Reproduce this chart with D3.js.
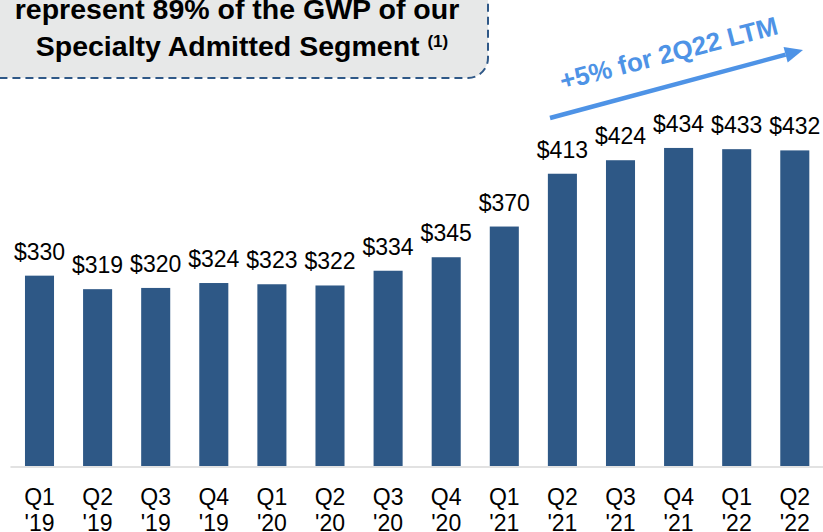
<!DOCTYPE html>
<html><head><meta charset="utf-8">
<script src="https://cdn.jsdelivr.net/npm/d3@7"></script>
<style>html,body{margin:0;padding:0;background:#fff;}svg{display:block;}</style>
</head><body>
<svg id="chart" width="823" height="532"></svg>
<script>
const quarters = ["Q1","Q2","Q3","Q4","Q1","Q2","Q3","Q4","Q1","Q2","Q3","Q4","Q1","Q2"];
const years = ["'19","'19","'19","'19","'20","'20","'20","'20","'21","'21","'21","'21","'22","'22"];
const values = [330,319,320,324,323,322,334,345,370,413,424,434,433,432];
const calloutLines = ["represent 89% of the GWP of our","Specialty Admitted Segment"];
const calloutNote = "(1)";
const growthLabel = "+5% for 2Q22 LTM";

const W = 823, H = 532;
const svg = d3.select("#chart");
const font = "Liberation Sans, Arial, Helvetica, sans-serif";
const keys = quarters.map((q,i)=>i);

const x = d3.scaleBand().domain(keys).range([10.45, 823.85]).paddingInner(0.5).paddingOuter(0.25);
const y = d3.scaleLinear().domain([175, 500]).range([466, 66.9]);

// callout box
svg.append("rect").attr("x",-30).attr("y",-40).attr("width",518).attr("height",118)
  .attr("rx",20).attr("ry",20)
  .attr("fill","#e7e8e8").attr("stroke","#2F5887").attr("stroke-width",2)
  .attr("stroke-dasharray","8,5");
const ct = svg.append("text").attr("font-family",font).attr("font-weight","bold")
  .attr("font-size",28.5).attr("fill","#000").attr("text-anchor","middle");
ct.append("tspan").attr("x",237).attr("y",19).text(calloutLines[0]);
const l2 = ct.append("tspan").attr("x",242).attr("y",55.5);
l2.append("tspan").text(calloutLines[1] + " ");
l2.append("tspan").attr("font-size",17).attr("dy",-9).text(calloutNote);

// bars
svg.append("g").selectAll("rect").data(values).join("rect")
  .attr("x",(d,i)=>x(i)).attr("width",x.bandwidth())
  .attr("y",d=>y(d)).attr("height",d=>y.range()[0]-y(d))
  .attr("fill","#2E5886");

// baseline
svg.append("line").attr("x1",x.range()[0]).attr("x2",W).attr("y1",467).attr("y2",467)
  .attr("stroke","#d9d9d9").attr("stroke-width",1.5);

// value labels
svg.append("g").selectAll("text").data(values).join("text")
  .attr("x",(d,i)=>x(i)+x.bandwidth()/2).attr("y",d=>y(d)-16)
  .attr("text-anchor","middle").attr("font-family",font).attr("font-size",23)
  .attr("fill","#000").text(d=>"$"+d);

// category labels
const cat = svg.append("g").selectAll("text").data(keys).join("text")
  .attr("text-anchor","middle").attr("font-family",font).attr("font-size",23).attr("fill","#000");
cat.append("tspan").attr("x",i=>x(i)+x.bandwidth()/2).attr("y",505).text(i=>quarters[i]);
cat.append("tspan").attr("x",i=>x(i)+x.bandwidth()/2).attr("y",531).text(i=>years[i]);

// growth arrow
const blue = "#4E93E6";
const ax0=550, ay0=118, ax1=803, ay1=50;
const ang = Math.atan2(ay1-ay0, ax1-ax0);
const hl = 18, hw = 8;
const bx = ax1 - hl*Math.cos(ang), by = ay1 - hl*Math.sin(ang);
svg.append("line").attr("x1",ax0).attr("y1",ay0).attr("x2",bx).attr("y2",by)
  .attr("stroke",blue).attr("stroke-width",4.5);
svg.append("path").attr("d",
  `M${ax1},${ay1} L${bx - hw*Math.sin(ang)},${by + hw*Math.cos(ang)} L${bx + hw*Math.sin(ang)},${by - hw*Math.cos(ang)} Z`)
  .attr("fill",blue);
svg.append("text").attr("transform","translate(671,62) rotate(-14.5)")
  .attr("text-anchor","middle").attr("font-family",font).attr("font-weight","bold")
  .attr("font-size",26).attr("fill",blue).text(growthLabel);
</script>
</body></html>
